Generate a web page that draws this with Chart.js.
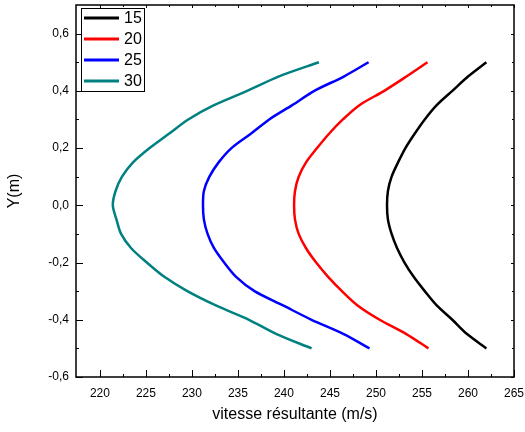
<!DOCTYPE html>
<html>
<head>
<meta charset="utf-8">
<script src="https://cdn.jsdelivr.net/npm/chart.js@4.4.1/dist/chart.umd.min.js"></script>
<style>
  html, body { margin: 0; padding: 0; background: #fff; }
  #wrap { width: 525px; height: 432px; }
</style>
</head>
<body>
<div id="wrap"><canvas id="myChart"></canvas></div>
<script>
// positions across the channel (m)
const yPos = [-0.5,-0.45,-0.4,-0.35,-0.3,-0.25,-0.2,-0.15,-0.1,-0.05,0,0.05,0.1,0.15,0.2,0.25,0.3,0.35,0.4,0.45,0.5];

// resultant speed (m/s) for each case
const v15 = [262.0,259.9,258.3,256.6,255.3,254.1,253.1,252.3,251.7,251.3,251.2,251.3,251.7,252.4,253.2,254.2,255.3,256.6,258.3,260.0,262.0];
const v20 = [255.7,253.3,250.4,248.0,246.3,244.8,243.5,242.4,241.6,241.2,241.1,241.2,241.6,242.4,243.6,244.9,246.4,248.2,250.9,253.3,255.6];
const v25 = [249.3,246.5,243.0,239.9,236.8,234.8,233.5,232.4,231.7,231.3,231.2,231.3,231.9,232.9,234.3,236.4,238.4,240.9,243.3,246.5,249.2];
const v30 = [243.0,239.2,236.2,232.6,229.5,227.0,225.1,223.4,222.3,221.8,221.4,221.7,222.4,223.6,225.4,227.5,229.6,232.4,236.0,239.4,243.8];

const caseLabels = ["15","20","25","30"];
const caseColors = ["#000000","#ff0000","#0000ff","#008080"];
const series = [v15, v20, v25, v30];

// tick values on the axes
const xTickValues = [220,225,230,235,240,245,250,255,260,265];
const yTickValues = [-0.6,-0.4,-0.2,0,0.2,0.4,0.6];

const FONT = "'Liberation Sans', Arial, sans-serif";

function toPoints(xs) {
  return xs.map((x, i) => ({ x: x, y: yPos[i] }));
}

// frame + origin style ticks (inward, minor between majors)
const frameTicks = {
  id: "frameTicks",
  afterDraw(chart) {
    const ctx = chart.ctx;
    const a = chart.chartArea;
    const xs = chart.scales.x, ys = chart.scales.y;
    ctx.save();
    ctx.strokeStyle = "#000";
    ctx.lineWidth = 1;
    for (let v = 220; v <= 265; v += 2.5) {
      const px = Math.round(xs.getPixelForValue(v)) + 0.5;
      const major = v % 5 === 0;
      ctx.beginPath();
      ctx.moveTo(px, a.bottom); ctx.lineTo(px, a.bottom - (major ? 7 : 3));
      ctx.moveTo(px, a.top); ctx.lineTo(px, a.top + (major ? 3 : 2));
      ctx.stroke();
    }
    for (let k = -6; k <= 6; k++) {
      const v = k / 10;
      const py = Math.round(ys.getPixelForValue(v)) + 0.5;
      const major = k % 2 === 0;
      ctx.beginPath();
      ctx.moveTo(a.left, py); ctx.lineTo(a.left + (major ? 7 : 3), py);
      ctx.moveTo(a.right, py); ctx.lineTo(a.right - (major ? 3 : 2), py);
      ctx.stroke();
    }
    ctx.lineWidth = 1.5;
    ctx.strokeRect(a.left, a.top, a.right - a.left, a.bottom - a.top);

    // legend box in the upper left corner
    const lx = a.left + 5, ly = a.top + 3;
    ctx.lineWidth = 1;
    ctx.fillStyle = "#fff";
    ctx.fillRect(lx, ly, 63, 83);
    ctx.strokeRect(lx + 0.5, ly + 0.5, 63, 83);
    ctx.font = "16px " + FONT;
    ctx.textBaseline = "middle";
    chart.data.datasets.forEach((ds, i) => {
      const ry = ly + 10 + i * 21;
      ctx.strokeStyle = ds.borderColor;
      ctx.lineWidth = 3;
      ctx.beginPath();
      ctx.moveTo(lx + 3, ry); ctx.lineTo(lx + 38, ry);
      ctx.stroke();
      ctx.fillStyle = "#000";
      ctx.fillText(ds.label, lx + 43, ry + 1);
    });
    ctx.restore();
  }
};

new Chart("myChart", {
  type: "scatter",
  data: {
    datasets: series.map((s, i) => ({
      label: caseLabels[i],
      data: toPoints(s),
      showLine: true,
      borderColor: caseColors[i],
      backgroundColor: caseColors[i],
      borderWidth: 2.5,
      pointRadius: 0,
      tension: 0.3,
      fill: false
    }))
  },
  options: {
    responsive: true,
    maintainAspectRatio: false,
    animation: false,
    layout: { padding: { top: 5, right: 11, left: 0, bottom: 0 } },
    plugins: {
      legend: { display: false },
      tooltip: { enabled: false }
    },
    scales: {
      x: {
        type: "linear",
        min: 217.4,
        max: 265,
        afterBuildTicks(scale) { scale.ticks = xTickValues.map(v => ({ value: v })); },
        afterFit(scale) {
          scale.height = 55;
          scale.paddingLeft = 0;
          scale.paddingRight = 0;
        },
        grid: { display: false, drawTicks: false },
        border: { display: false },
        ticks: {
          padding: 9,
          color: "#000",
          font: { family: FONT, size: 12 },
          maxRotation: 0,
          autoSkip: false
        },
        title: {
          display: true,
          text: "vitesse résultante (m/s)",
          color: "#000",
          font: { family: FONT, size: 16 },
          padding: { top: 0, bottom: 8 }
        }
      },
      y: {
        type: "linear",
        min: -0.6,
        max: 0.7,
        afterBuildTicks(scale) { scale.ticks = yTickValues.map(v => ({ value: v })); },
        afterFit(scale) {
          scale.width = 76;
          scale.paddingTop = 0;
          scale.paddingBottom = 0;
        },
        grid: { display: false, drawTicks: false },
        border: { display: false },
        ticks: {
          padding: 7,
          color: "#000",
          font: { family: FONT, size: 12 },
          autoSkip: false,
          callback: v => v.toFixed(1).replace(".", ",")
        },
        title: {
          display: true,
          text: "Y(m)",
          color: "#000",
          font: { family: FONT, size: 16 },
          padding: { top: 5, bottom: 0 }
        }
      }
    }
  },
  plugins: [frameTicks]
});
</script>
</body>
</html>
